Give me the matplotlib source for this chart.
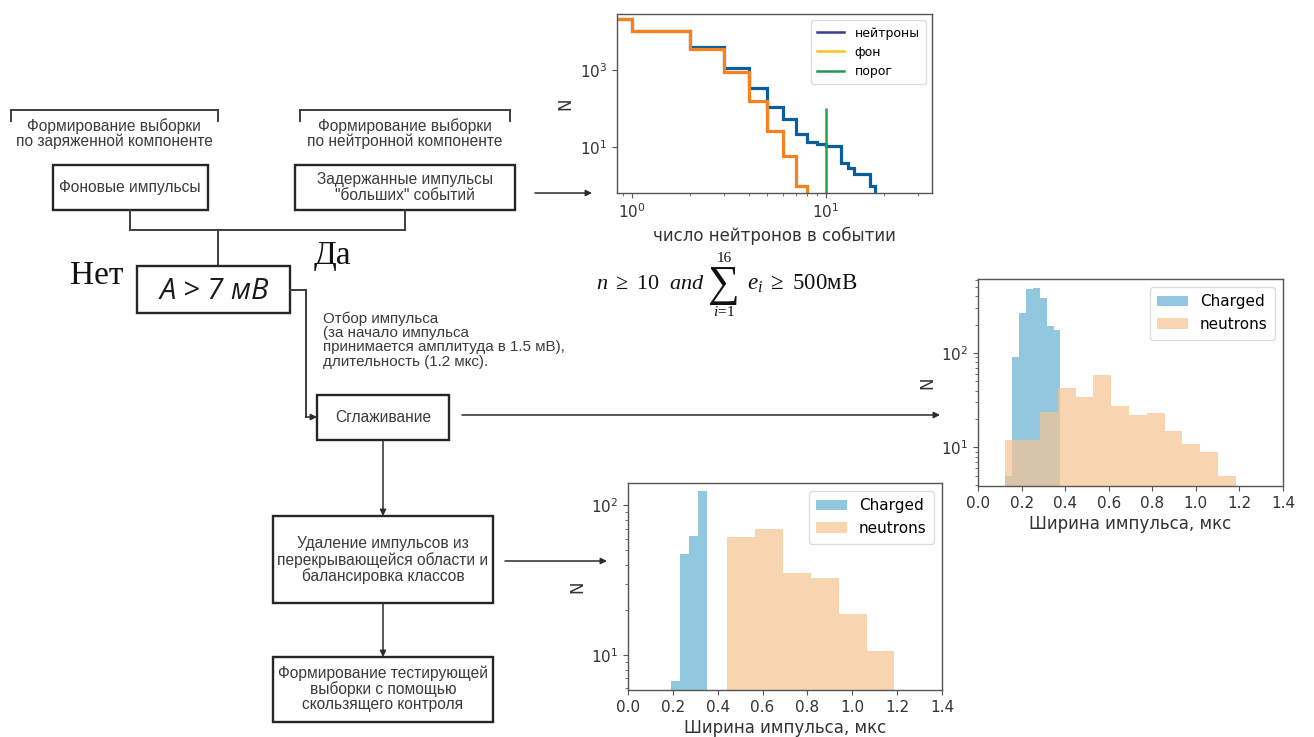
import matplotlib
matplotlib.use('Agg')
import matplotlib.pyplot as plt
import numpy as np
from matplotlib.lines import Line2D
from matplotlib.patches import Rectangle, FancyArrowPatch
from matplotlib.ticker import NullLocator

plt.rcParams['mathtext.rm'] = 'Liberation Serif'
plt.rcParams['mathtext.it'] = 'Liberation Serif:italic'
plt.rcParams['mathtext.bf'] = 'Liberation Serif:bold'

# ---------------- data ----------------
# top chart: number of neutrons per event (step histograms)
neutron_edges = list(range(0, 19))
neutron_counts = [20500, 10000, 3900, 1080, 340, 112, 55, 22, 14, 12, 11, 11, 4, 3, 2, 2, 2, 1]
background_edges = list(range(0, 9))
background_counts = [20500, 10000, 3400, 890, 160, 27, 6, 1]
threshold = 10
threshold_top = 100
top_legend_labels = ['нейтроны', 'фон', 'порог']

# right chart: pulse width, before balancing
charged_edges_1 = [0.126, 0.158, 0.189, 0.221, 0.252, 0.284, 0.315, 0.347, 0.378]
charged_counts_1 = [5, 90, 264, 476, 490, 388, 195, 176]
neutron_w_edges_1 = [0.122, 0.204, 0.285, 0.367, 0.449, 0.530, 0.612, 0.693,
                     0.775, 0.857, 0.938, 1.020, 1.101, 1.183]
neutron_w_counts_1 = [12, 12, 24, 43, 34.5, 58, 27.5, 22, 23, 15, 11, 8.9, 5.0]

# bottom chart: pulse width, after removal of overlap and balancing
charged_edges_2 = [0.193, 0.232, 0.272, 0.311, 0.351]
charged_counts_2 = [6.7, 47, 62, 125]
neutron_w_edges_2 = [0.441, 0.566, 0.690, 0.815, 0.939, 1.064, 1.188]
neutron_w_counts_2 = [61.5, 69, 35.4, 32.6, 18.7, 10.7]

width_ticks = [0.0, 0.2, 0.4, 0.6, 0.8, 1.0, 1.2, 1.4]

# ---------------- figure ----------------
W, H = 1314, 737
fig = plt.figure(figsize=(W / 100, H / 100), dpi=100)
fig.patch.set_facecolor('white')

flow = fig.add_axes([0, 0, 1, 1])
flow.set_xlim(0, W)
flow.set_ylim(H, 0)
flow.axis('off')

LC = '#262626'
TXT = '#3a3a3a'
SANS = 'Liberation Sans'
FS = 11.2


def box(x0, y0, x1, y1, lw=1.7):
    flow.add_patch(Rectangle((x0, y0), x1 - x0, y1 - y0, fill=False,
                             edgecolor=LC, lw=lw, zorder=2))


def line(xs, ys, lw=1.4, color='#3d3d3d'):
    flow.plot(xs, ys, color=color, lw=lw, solid_joinstyle='miter', zorder=2)


def arrow(p0, p1, lw=1.1):
    flow.add_patch(FancyArrowPatch(p0, p1, arrowstyle='-|>', mutation_scale=9,
                                   color='#2b2b2b', lw=lw, shrinkA=0, shrinkB=0,
                                   zorder=3))


# brackets with headers
line([11, 11, 218, 218], [121, 110, 110, 121])
line([300, 300, 510, 510], [121, 110, 110, 121])
flow.text(114, 133.5, 'Формирование выборки\nпо заряженной компоненте', ha='center',
          va='center', fontsize=FS, family=SANS, color=TXT, linespacing=1.0)
flow.text(405, 133.5, 'Формирование выборки\nпо нейтронной компоненте', ha='center',
          va='center', fontsize=FS, family=SANS, color=TXT, linespacing=1.0)

# first row boxes
box(53, 165, 208, 210)
flow.text(130, 187.5, 'Фоновые импульсы', ha='center', va='center', fontsize=FS,
          family=SANS, color=TXT)
box(295, 165, 515, 210)
flow.text(405, 187.5, 'Задержанные импульсы\n"больших" событий', ha='center',
          va='center', fontsize=FS, family=SANS, color=TXT, linespacing=1.08)

# merge connector
line([130, 130, 405, 405], [210, 230, 230, 210])
line([218, 218], [230, 266])

# decision box
box(137, 266, 290, 313)
flow.text(214, 291, 'A > 7 мВ', ha='center', va='center', fontsize=21,
          style='italic', family='Open Sans', color='#1a1a1a')
flow.text(97, 276, 'Нет', ha='center', va='center', fontsize=24,
          family='Liberation Serif', color='#111111')
flow.text(332, 256, 'Да', ha='center', va='center', fontsize=24,
          family='Liberation Serif', color='#111111')

# from decision to smoothing
line([290, 306, 306], [290, 290, 417])
arrow((306, 417), (317, 417))
flow.text(323, 340, 'Отбор импульса\n(за начало импульса\nпринимается амплитуда в 1.5 мВ),\n'
          'длительность (1.2 мкс).', ha='left', va='center', fontsize=10.9,
          family=SANS, color=TXT, linespacing=1.02)

box(317, 395, 449, 440)
flow.text(383, 417.5, 'Сглаживание', ha='center', va='center', fontsize=FS,
          family=SANS, color=TXT)
arrow((462, 415), (940, 415))

arrow((383, 440), (383, 516))
box(273, 516, 493, 603)
flow.text(383, 560, 'Удаление импульсов из\nперекрывающейся области и\nбалансировка классов',
          ha='center', va='center', fontsize=FS, family=SANS, color=TXT,
          linespacing=1.05)
arrow((505, 561), (607, 561))

arrow((383, 603), (383, 657))
box(273, 657, 493, 722)
flow.text(383, 689, 'Формирование тестирующей\nвыборки с помощью\nскользящего контроля',
          ha='center', va='center', fontsize=FS, family=SANS, color=TXT,
          linespacing=1.02)

arrow((535, 193), (592, 193))

# formula
FC = '#111111'
flow.text(596, 284, r'$n\ \geq\ 10\ \ and$', ha='left', va='center', fontsize=16,
          family='Liberation Serif', math_fontfamily='custom', color=FC)
flow.text(724, 285, '\u2211', ha='center', va='center', fontsize=32,
          family='Liberation Serif', color=FC)
flow.text(724, 258, '16', ha='center', va='center', fontsize=11,
          family='Liberation Serif', color=FC)
flow.text(724, 312, r'$i\!=\!1$', ha='center', va='center', fontsize=11,
          family='Liberation Serif', math_fontfamily='custom', color=FC)
flow.text(747, 284, r'$e_i\ \geq\ 500$мВ', ha='left', va='center', fontsize=16.5,
          family='Liberation Serif', math_fontfamily='custom', color=FC)

# ---------------- charts ----------------
SPINE = '#555555'
TICKC = '#333333'


def style_ax(ax):
    for s in ax.spines.values():
        s.set_color(SPINE)
        s.set_linewidth(1.0)
    ax.tick_params(colors=SPINE, labelcolor=TICKC, labelsize=11)
    ax.tick_params(which='minor', colors=SPINE)


def axes_px(x0, y0, x1, y1):
    return fig.add_axes([x0 / W, 1 - y1 / H, (x1 - x0) / W, (y1 - y0) / H])


# top chart
ax1 = axes_px(617, 14, 932, 193)
ax1.set_xscale('log', nonpositive='clip')
ax1.set_yscale('log', nonpositive='clip')
ax1.stairs(neutron_counts, neutron_edges, baseline=0.01, color='#0b5e9e', lw=2.3)
ax1.stairs(background_counts, background_edges, baseline=0.01, color='#f5821f', lw=2.3)
ax1.vlines(threshold, 0.01, threshold_top, color='#23a04a', lw=1.8)
ax1.set_xlim(0.836, 35.4)
ax1.set_ylim(0.66, 27300)
ax1.set_yticks([10, 1000])
ax1.yaxis.set_minor_locator(NullLocator())
ax1.set_xlabel('число нейтронов в событии', fontsize=12, color=TICKC, labelpad=4)
ax1.set_ylabel('N', fontsize=12, color=TICKC, labelpad=4)
style_ax(ax1)
handles = [Line2D([], [], color='#3b3b9c', lw=1.8),
           Line2D([], [], color='#f8c21a', lw=1.8),
           Line2D([], [], color='#1f9a4c', lw=1.8)]
ax1.legend(handles, top_legend_labels, loc='upper right', fontsize=9,
           handlelength=2.2, borderpad=0.5, labelspacing=0.5, framealpha=1,
           edgecolor='#dddddd')

BLUE = '#92c8df'
ORANGE = '#f6c391'


def width_hist(ax, ce, cc, ne, nc, ylim):
    ax.hist(ce[:-1], bins=ce, weights=cc, color=BLUE, log=True, label='Charged')
    ax.hist(ne[:-1], bins=ne, weights=nc, color=ORANGE, alpha=0.7, log=True,
            label='neutrons')
    ax.set_xlim(0, 1.4)
    ax.set_ylim(*ylim)
    ax.set_xticks(width_ticks)
    ax.set_xlabel('Ширина импульса, мкс', fontsize=12, color=TICKC, labelpad=3)
    ax.set_ylabel('N', fontsize=12, color=TICKC, labelpad=3)
    style_ax(ax)
    ax.legend(loc='upper right', fontsize=11, framealpha=1, edgecolor='#dddddd',
              handlelength=2.0, borderpad=0.5)


ax2 = axes_px(978, 279, 1283, 486)
width_hist(ax2, charged_edges_1, charged_counts_1, neutron_w_edges_1,
           neutron_w_counts_1, (3.9, 610))

ax3 = axes_px(628, 483, 942, 690)
width_hist(ax3, charged_edges_2, charged_counts_2, neutron_w_edges_2,
           neutron_w_counts_2, (5.84, 141))

fig.savefig('out.png', dpi=100, facecolor='white')
